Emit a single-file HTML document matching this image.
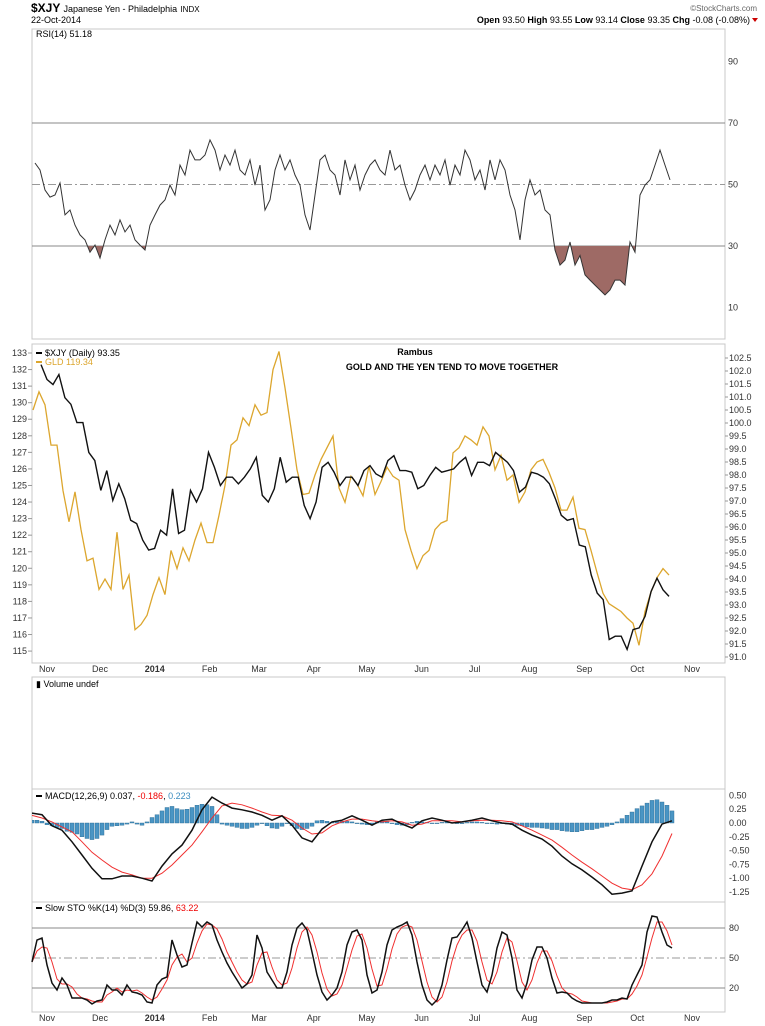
<!DOCTYPE html>
<html><head><meta charset="utf-8">
<style>
html,body{margin:0;padding:0;background:#fff;}
svg{display:block;font-family:"Liberation Sans",sans-serif;}
.ax{font-size:9px;fill:#333;}
</style></head>
<body>
<svg id="c" width="765" height="1026" viewBox="0 0 765 1026" xmlns="http://www.w3.org/2000/svg">
  <defs>
    <clipPath id="macdClip"><rect x="32" y="789" width="693" height="113"/></clipPath>
  </defs>
  <text x="31" y="12" font-size="12" font-weight="bold" fill="#000">$XJY <tspan font-size="9" font-weight="normal">Japanese Yen - Philadelphia</tspan> <tspan font-size="8" font-weight="normal">INDX</tspan></text>
  <text x="31" y="23" font-size="9" fill="#000">22-Oct-2014</text>
  <text x="757" y="11" font-size="8" fill="#666" text-anchor="end">©StockCharts.com</text>
  <text x="750" y="23" font-size="9" fill="#000" text-anchor="end"><tspan font-weight="bold">Open</tspan> 93.50 <tspan font-weight="bold">High</tspan> 93.55 <tspan font-weight="bold">Low</tspan> 93.14 <tspan font-weight="bold">Close</tspan> 93.35 <tspan font-weight="bold">Chg</tspan> -0.08 (-0.08%)</text>
  <path d="M752 18 L758 18 L755 22 Z" fill="#c00"/>

  <rect x="32" y="29" width="693" height="310" fill="none" stroke="#c8c8c8"/>
  <rect x="32" y="344" width="693" height="319" fill="none" stroke="#c8c8c8"/>
  <rect x="32" y="677" width="693" height="112" fill="none" stroke="#c8c8c8"/>
  <rect x="32" y="789" width="693" height="113" fill="none" stroke="#c8c8c8"/>
  <rect x="32" y="902" width="693" height="110" fill="none" stroke="#c8c8c8"/>

  <g id="rsiG"></g>
  <g id="mainG"></g>
  <g id="macdG" clip-path="url(#macdClip)"></g>
  <g id="stoG"></g>
  <g id="axG"></g>

  <text x="36" y="37" font-size="9" fill="#000">RSI(14) 51.18</text>
  <line x1="36" y1="353" x2="42" y2="353" stroke="#000" stroke-width="2"/>
  <text x="45" y="356" font-size="9" fill="#000">$XJY (Daily) 93.35</text>
  <line x1="36" y1="362" x2="42" y2="362" stroke="#dca62e" stroke-width="2"/>
  <text x="45" y="365" font-size="9" fill="#dca62e">GLD 119.34</text>
  <text x="415" y="355" font-size="9" font-weight="bold" text-anchor="middle" fill="#000">Rambus</text>
  <text x="452" y="370" font-size="9" font-weight="bold" text-anchor="middle" fill="#000">GOLD AND THE YEN TEND TO MOVE TOGETHER</text>
  <text x="36" y="687" font-size="9" fill="#000">▮ Volume undef</text>
  <line x1="36" y1="796" x2="42" y2="796" stroke="#000" stroke-width="2"/>
  <text x="45" y="799" font-size="9" fill="#000">MACD(12,26,9) 0.037, <tspan fill="#e00">-0.186</tspan>, <tspan fill="#3d8ec0">0.223</tspan></text>
  <line x1="36" y1="908" x2="42" y2="908" stroke="#000" stroke-width="2"/>
  <text x="45" y="911" font-size="9" fill="#000">Slow STO %K(14) %D(3) 59.86, <tspan fill="#e00">63.22</tspan></text>
</svg>
<script>
const rsiVals=[57.0,54.7,48.2,45.9,46.6,50.5,40.1,41.7,36.8,33.6,32.0,28.0,30.3,26.1,32.0,36.8,33.6,38.5,34.6,36.8,32.0,30.3,28.7,36.8,40.1,43.3,45.0,49.8,46.6,56.3,53.1,61.2,58.0,58.0,59.6,64.5,61.2,54.7,59.6,56.3,61.2,54.7,53.1,58.0,49.8,56.3,41.7,45.0,54.7,59.6,54.7,58.0,53.1,49.8,40.1,35.2,46.6,58.0,59.6,54.7,53.1,46.6,58.0,51.5,56.3,48.2,53.1,56.3,58.0,54.7,53.1,61.2,54.7,56.3,49.8,45.0,48.2,53.1,56.3,51.5,56.3,53.1,58.0,49.8,56.3,53.1,61.2,58.0,51.5,54.7,48.2,58.0,51.5,58.0,54.7,46.6,41.7,32.0,45.0,51.5,46.6,48.2,41.7,40.1,28.7,23.8,25.4,31.3,23.8,26.9,20.6,18.9,17.3,15.7,14.1,15.7,18.9,18.9,17.3,31.3,28.0,46.6,49.8,51.5,56.3,61.2,56.3,51.5];
const xjyVals=[132.3,131.4,131.1,131.7,130.3,129.9,128.8,128.8,127.0,126.5,124.7,125.9,124.1,125.1,124.2,122.9,122.7,121.7,121.1,121.2,122.3,122.0,124.8,122.1,122.3,124.7,124.0,124.8,127.0,126.1,125.0,125.5,125.5,125.1,125.5,126.0,126.7,124.4,124.0,124.8,126.7,125.2,125.5,125.5,123.8,123.0,124.0,126.1,126.4,125.8,125.0,125.5,125.5,125.0,125.9,126.2,125.7,125.5,126.5,126.8,125.9,125.9,125.8,124.8,125.0,125.6,126.1,125.8,125.9,126.0,126.4,126.7,125.6,126.4,126.4,126.2,127.0,126.7,126.4,125.9,124.6,124.9,125.8,125.7,125.5,125.1,124.2,123.2,122.9,123.0,121.4,121.3,119.6,118.5,118.1,115.7,115.9,115.9,115.1,116.3,116.4,117.1,118.6,119.4,118.7,118.3];
const gldVals=[100.5,101.2,100.7,99.15,99.15,97.4,96.2,97.35,95.9,94.7,94.8,93.6,94.0,93.6,95.8,93.6,94.15,92.05,92.25,92.6,93.4,94.05,93.4,95.1,94.4,95.2,94.7,95.5,96.15,95.4,95.4,96.45,97.6,99.15,99.35,100.2,99.9,100.7,100.3,100.4,102.05,102.75,101.35,99.8,98.2,97.25,97.3,98.0,98.6,99.05,99.5,97.5,96.95,97.95,97.65,97.2,98.35,97.25,97.75,98.3,97.95,97.8,95.9,95.1,94.4,94.9,95.1,95.9,96.15,96.25,98.85,99.05,99.5,99.35,99.15,99.85,99.5,98.2,98.75,97.8,98.0,96.95,97.35,98.2,98.5,98.6,98.1,97.5,96.65,96.65,97.15,95.95,95.9,95.1,94.25,93.45,93.05,92.9,92.75,92.5,92.3,91.45,92.75,93.5,94.05,94.4,94.15];
const macdVals=[0.18,0.15,-0.05,-0.13,-0.34,-0.58,-0.82,-1.01,-1.01,-0.96,-0.96,-1.0,-1.05,-0.78,-0.56,-0.40,-0.13,0.24,0.47,0.36,0.27,0.24,0.2,0.14,0.05,0.13,-0.04,-0.27,-0.34,-0.11,0.02,0.05,0.13,0.05,-0.04,0.05,0.07,-0.02,-0.09,0.04,0.09,0.05,0,0.02,0.05,0.09,0.04,0,-0.02,-0.13,-0.22,-0.29,-0.42,-0.6,-0.74,-0.85,-0.98,-1.12,-1.29,-1.27,-1.23,-0.78,-0.34,-0.02,0.04];
const signalVals=[0.14,0.09,0.02,-0.07,-0.16,-0.34,-0.53,-0.67,-0.8,-0.89,-0.94,-1.0,-1.0,-0.91,-0.76,-0.58,-0.40,-0.16,0.09,0.31,0.36,0.33,0.27,0.2,0.14,0.13,0.05,-0.09,-0.2,-0.18,-0.05,0.02,0.07,0.07,0.04,0.02,0.04,0.02,-0.04,-0.02,0.04,0.04,0.04,0.02,0.04,0.05,0.05,0.04,0.02,-0.05,-0.13,-0.22,-0.31,-0.44,-0.58,-0.71,-0.83,-0.96,-1.09,-1.18,-1.21,-1.12,-0.92,-0.6,-0.19];
const histVals=[0.05,0.05,0.03,-0.03,-0.05,-0.08,-0.1,-0.15,-0.17,-0.2,-0.25,-0.28,-0.3,-0.28,-0.22,-0.12,-0.06,-0.05,-0.04,-0.02,0.02,-0.02,-0.04,0.02,0.1,0.15,0.22,0.28,0.3,0.26,0.24,0.25,0.28,0.32,0.34,0.33,0.3,0.15,-0.02,-0.04,-0.06,-0.08,-0.1,-0.1,-0.08,-0.04,0.0,-0.05,-0.09,-0.1,-0.06,0.0,-0.05,-0.1,-0.12,-0.1,-0.06,0.04,0.05,0.03,0.01,0.02,0.03,0.03,0.02,0.0,-0.02,-0.03,-0.02,0.02,0.03,0.02,0.0,-0.03,-0.04,-0.03,0.01,0.03,0.02,0.01,0.0,-0.01,0.01,0.02,0.01,0.0,-0.01,0.01,0.02,0.02,0.01,0.0,-0.01,-0.02,-0.01,-0.02,-0.03,-0.04,-0.05,-0.07,-0.08,-0.08,-0.09,-0.1,-0.12,-0.12,-0.14,-0.15,-0.16,-0.16,-0.14,-0.12,-0.12,-0.1,-0.08,-0.06,-0.03,0.02,0.08,0.14,0.2,0.26,0.31,0.36,0.41,0.42,0.38,0.32,0.22];
const stoK=[46,68,70,43,25,18,30,23,10,10,10,8,4,7,8,23,18,18,13,23,16,15,13,6,5,23,29,31,68,53,41,43,65,86,81,86,83,68,56,45,36,28,20,24,33,73,60,36,28,20,20,36,63,80,85,78,56,33,16,8,13,20,36,63,76,78,68,33,15,18,36,63,78,81,83,86,73,46,23,8,3,8,23,48,70,71,78,86,70,46,23,16,33,60,76,73,50,18,10,25,48,61,61,50,30,15,16,15,10,7,5,5,5,5,5,6,8,8,10,9,23,33,43,76,92,91,76,63,60];
const stoD=[46,57,61,60,46,29,24,24,21,14,10,9,7,6,6,13,16,20,16,18,17,18,15,11,8,11,19,28,43,51,54,46,50,65,77,84,83,79,69,56,46,36,28,24,26,43,55,56,41,28,23,25,40,60,76,81,73,56,35,19,12,14,23,40,58,72,74,60,39,22,23,39,59,74,81,83,81,68,47,26,11,6,11,26,47,63,73,78,78,67,46,28,24,36,56,70,66,47,26,18,28,45,57,57,47,32,20,15,14,11,7,6,5,5,5,5,6,7,9,9,14,22,33,51,70,86,86,77,63];
const monthLabels=["Nov","Dec","2014","Feb","Mar","Apr","May","Jun","Jul","Aug","Sep","Oct","Nov"];
const monthDays=[0,30,61,92,120,151,181,212,242,273,304,334,365];
const rsiTicks=[90,70,50,30,10];
const leftTicks=[133,132,131,130,129,128,127,126,125,124,123,122,121,120,119,118,117,116,115];
const rightTicks=[102.5,102.0,101.5,101.0,100.5,100.0,99.5,99.0,98.5,98.0,97.5,97.0,96.5,96.0,95.5,95.0,94.5,94.0,93.5,93.0,92.5,92.0,91.5,91.0];
const macdTicks=[0.50,0.25,0.00,-0.25,-0.50,-0.75,-1.00,-1.25];
const stoTicks=[80,50,20];

const NS="http://www.w3.org/2000/svg";
function mk(tag,attrs,parent){const e=document.createElementNS(NS,tag);for(const k in attrs)e.setAttribute(k,attrs[k]);parent.appendChild(e);return e;}
const yRsi=v=>123+(70-v)*3.075;
const yLeft=v=>353+(133-v)*16.56;
const yRight=v=>358+(102.5-v)*26;
const yMacd=v=>823-v*55.2;
const ySto=v=>958-(v-50);
const xMonth=d=>47+d*1.767;
function xIdx(i,n,x0,x1){return x0+i*(x1-x0)/(n-1);}
function pts(arr,x0,x1,yf){return arr.map((v,i)=>xIdx(i,arr.length,x0,x1).toFixed(1)+","+yf(v).toFixed(1)).join(" ");}

const rsiG=document.getElementById('rsiG'),mainG=document.getElementById('mainG'),macdG=document.getElementById('macdG'),stoG=document.getElementById('stoG'),axG=document.getElementById('axG');

let l;
l=mk('line',{x1:32,x2:725,y1:yRsi(70),y2:yRsi(70),stroke:'#888','stroke-width':1},rsiG);


l=mk('line',{x1:32,x2:725,y1:yRsi(30),y2:yRsi(30),stroke:'#888','stroke-width':1},rsiG);


l=mk('line',{x1:32,x2:725,y1:yRsi(50),y2:yRsi(50),stroke:'#999','stroke-width':1,'stroke-dasharray':'8,3,2,3'},rsiG);


const cp=mk('clipPath',{id:'below30'},rsiG);
mk('rect',{x:32,y:yRsi(30),width:693,height:339-yRsi(30)},cp);
const rx0=35,rx1=670;
const fillPts=rx0+","+yRsi(30)+" "+pts(rsiVals,rx0,rx1,yRsi)+" "+rx1+","+yRsi(30);
l=mk('polygon',{points:fillPts,fill:'#9e6a65','clip-path':'url(#below30)'},rsiG);


l=mk('polyline',{points:pts(rsiVals,rx0,rx1,yRsi),fill:'none',stroke:'#333','stroke-width':1},rsiG);


rsiTicks.forEach(t=>{const e=mk('text',{x:728,y:yRsi(t)+3,class:'ax'},axG);e.textContent=t;

});

l=mk('polyline',{points:pts(gldVals,33,669,yRight),fill:'none',stroke:'#dca62e','stroke-width':1.3},mainG);


l=mk('polyline',{points:pts(xjyVals,41,669,yLeft),fill:'none',stroke:'#111','stroke-width':1.4},mainG);


leftTicks.forEach(t=>{const e=mk('text',{x:27,y:yLeft(t)+3,class:'ax','text-anchor':'end'},axG);e.textContent=t;


mk('line',{x1:28,x2:32,y1:yLeft(t),y2:yLeft(t),stroke:'#999'},axG);});
rightTicks.forEach(t=>{const e=mk('text',{x:729,y:yRight(t)+3,class:'ax'},axG);e.textContent=t.toFixed(1);


mk('line',{x1:725,x2:728,y1:yRight(t),y2:yRight(t),stroke:'#999'},axG);});

histVals.forEach((v,i)=>{const x=xIdx(i,histVals.length,32,672);const y0=yMacd(0),y1=yMacd(v);
const r=mk('rect',{x:(x-2).toFixed(1),y:Math.min(y0,y1).toFixed(1),width:4,height:Math.max(0.6,Math.abs(y1-y0)).toFixed(1),fill:'#4a95c4',stroke:'#2a6a92','stroke-width':0.4},macdG);

});
l=mk('polyline',{points:pts(signalVals,32,672,yMacd),fill:'none',stroke:'#f03030','stroke-width':1},macdG);


l=mk('polyline',{points:pts(macdVals,32,672,yMacd),fill:'none',stroke:'#111','stroke-width':1.5},macdG);


macdTicks.forEach(t=>{const e=mk('text',{x:729,y:yMacd(t)+3,class:'ax'},axG);e.textContent=t.toFixed(2);

});

l=mk('line',{x1:32,x2:725,y1:ySto(80),y2:ySto(80),stroke:'#888'},stoG);


l=mk('line',{x1:32,x2:725,y1:ySto(20),y2:ySto(20),stroke:'#888'},stoG);


l=mk('line',{x1:32,x2:725,y1:ySto(50),y2:ySto(50),stroke:'#999','stroke-dasharray':'8,3,2,3'},stoG);


l=mk('polyline',{points:pts(stoD,32,672,ySto),fill:'none',stroke:'#f03030','stroke-width':1},stoG);


l=mk('polyline',{points:pts(stoK,32,672,ySto),fill:'none',stroke:'#111','stroke-width':1.5},stoG);


stoTicks.forEach(t=>{const e=mk('text',{x:729,y:ySto(t)+3,class:'ax'},axG);e.textContent=t;

});

[672,1021].forEach(yy=>{monthLabels.forEach((m,i)=>{const x=xMonth(monthDays[i]);
const e=mk('text',{x:x.toFixed(1),y:yy,class:'ax','text-anchor':'middle','font-weight':m==='2014'?'bold':'normal',fill:'#333'},axG);e.textContent=m;

});});
</script>
</body></html>
